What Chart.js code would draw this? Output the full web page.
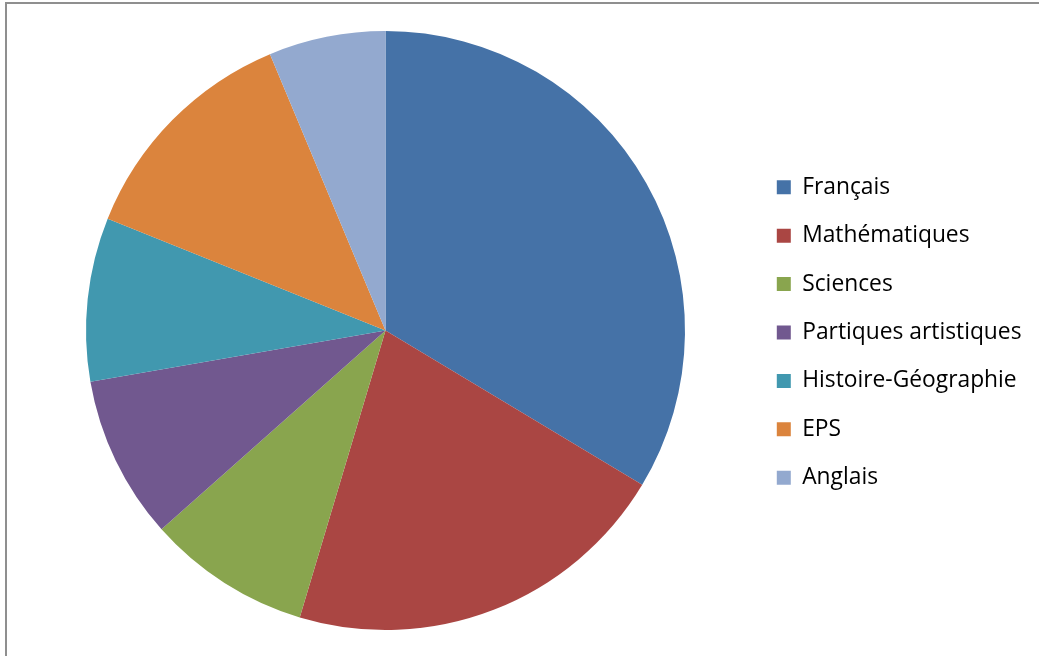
<!DOCTYPE html>
<html><head><meta charset="utf-8">
<script src="https://cdn.jsdelivr.net/npm/chart.js@4/dist/chart.umd.min.js"></script>
<style>
html,body{margin:0;padding:0;background:#fff;overflow:hidden}
#wrap{position:relative;width:1039px;height:656px}
#frame{position:absolute;left:5px;top:2px;width:1100px;height:700px;border-left:2px solid #8f8f8f;border-top:2px solid #8f8f8f}
canvas{position:absolute;left:0;top:0}
</style></head>
<body><div id="wrap"><div id="frame"></div><canvas id="c" width="1039" height="656"></canvas></div>
<script>
const categories = ["Français","Mathématiques","Sciences","Partiques artistiques","Histoire-Géographie","EPS","Anglais"];
const hours = [8, 5, 2.1, 2.1, 2.1, 3, 1.5];
const colors = ["#4572A7","#AA4643","#89A54E","#71588F","#4198AF","#DB843D","#93A9CF"];

const FONT = "Open Sans";
const FS = 22.8;
const mc = document.createElement('canvas').getContext('2d');
mc.font = FS+"px '"+FONT+"'";
let maxW = 0;
categories.forEach(t=>{maxW=Math.max(maxW, mc.measureText(t).width);});

const PAD = 48.4 - FS, BOX = 14;
const legendLeft = 776.8 - PAD;
const legendWidth = BOX + FS/2 + maxW + PAD + 10;
const padRight = Math.max(0, 1039 - legendLeft - legendWidth);
const padLeft = 2*385.5 - legendLeft;

new Chart(document.getElementById('c'), {
  type: 'pie',
  data: { labels: categories, datasets: [{ data: hours, backgroundColor: colors, borderWidth: 0 }] },
  options: {
    responsive: false, animation: false, devicePixelRatio: 1,
    layout: { padding: { top: 31, bottom: 26, left: padLeft, right: padRight } },
    plugins: {
      tooltip: { enabled: false },
      legend: { position: 'right', align: 'center',
        title: { display: true, text: ' ', font: { size: 1, lineHeight: 1 }, padding: { top: 1.5, bottom: 1.5 } },
        labels: { boxWidth: BOX, boxHeight: BOX, padding: PAD, color: '#000',
          font: { family: FONT, size: FS } } }
    }
  }
});
</script></body></html>
